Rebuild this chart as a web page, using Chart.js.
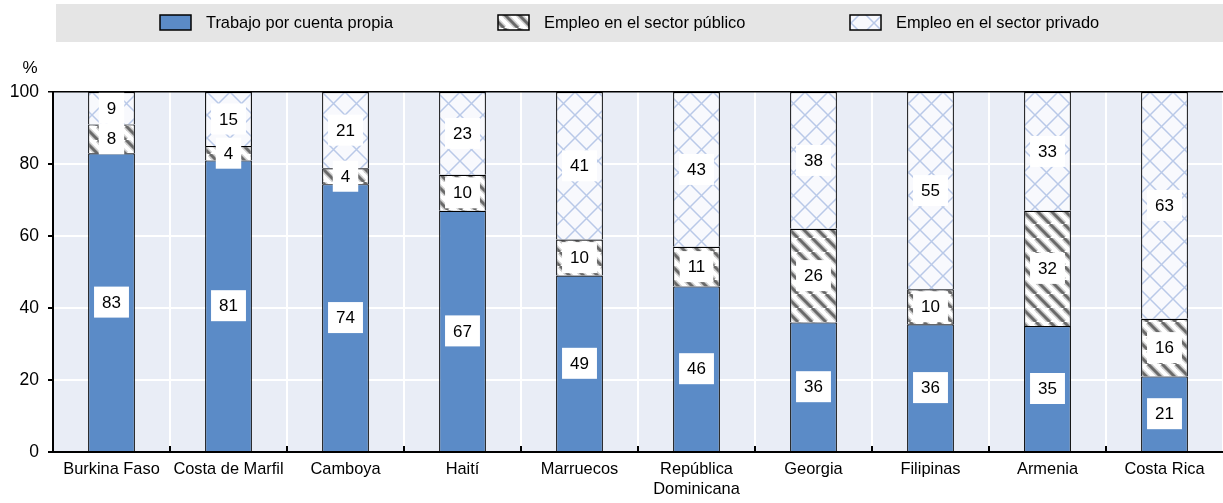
<!DOCTYPE html>
<html>
<head>
<meta charset="utf-8">
<script src="https://cdn.jsdelivr.net/npm/chart.js@4/dist/chart.umd.min.js"></script>
<style>
  html, body { margin: 0; padding: 0; background: #fff; }
</style>
</head>
<body>
<canvas id="chart" width="1223" height="503"></canvas>
<script>
// data
const countries = ['Burkina Faso', 'Costa de Marfil', 'Camboya', 'Haití', 'Marruecos',
  ['República', 'Dominicana'], 'Georgia', 'Filipinas', 'Armenia', 'Costa Rica'];
const selfEmployed = [83, 81, 74.4, 67, 49, 46, 36, 35.5, 35, 21];
const publicSector = [8, 4, 4.4, 10, 10, 11, 26, 9.7, 32, 16];
const privateSector = [9, 15, 21.2, 23, 41, 43, 38, 54.8, 33, 63];
const seriesNames = ['Trabajo por cuenta propia', 'Empleo en el sector público', 'Empleo en el sector privado'];
const yTicks = [0, 20, 40, 60, 80, 100];

const FONT = '"Liberation Sans", Arial, Helvetica, sans-serif';

// diagonal stripes for the public sector
function stripePattern() {
  const s = 14;
  const c = document.createElement('canvas');
  c.width = s; c.height = s;
  const g = c.getContext('2d');
  g.fillStyle = '#fff';
  g.fillRect(0, 0, s, s);
  [[6, '#cfcfcf'], [3, '#6a6a6a']].forEach(([w, col]) => {
    g.strokeStyle = col;
    g.lineWidth = w;
    [-s, 0, s].forEach(o => {
      g.beginPath();
      g.moveTo(o, 0);
      g.lineTo(o + s, s);
      g.stroke();
    });
  });
  return g.createPattern(c, 'repeat');
}

// light blue cross hatch for the private sector
function crossPattern() {
  const s = 23;
  const c = document.createElement('canvas');
  c.width = s; c.height = s;
  const g = c.getContext('2d');
  g.fillStyle = '#f8f9fd';
  g.fillRect(0, 0, s, s);
  g.strokeStyle = '#b9c9e8';
  g.lineWidth = 1.5;
  g.beginPath();
  g.moveTo(0, 0); g.lineTo(s, s);
  g.moveTo(s, 0); g.lineTo(0, s);
  g.stroke();
  return g.createPattern(c, 'repeat');
}

const fills = ['#5b8bc7', stripePattern(), crossPattern()];

const chartBg = {
  id: 'chartBg',
  beforeDraw(chart) {
    const { ctx, chartArea: a } = chart;
    ctx.save();
    ctx.fillStyle = '#e9edf6';
    ctx.fillRect(a.left, a.top, a.right - a.left, a.bottom - a.top);

    // legend band
    ctx.fillStyle = '#e5e5e5';
    ctx.fillRect(56, 4, chart.width - 56, 38);
    const boxX = [160, 498, 850];
    ctx.font = '16.4px ' + FONT;
    ctx.textBaseline = 'middle';
    chart.data.datasets.forEach((ds, i) => {
      ctx.fillStyle = ds.backgroundColor;
      ctx.fillRect(boxX[i], 15, 31, 15);
      ctx.strokeStyle = '#000';
      ctx.lineWidth = 1.5;
      ctx.strokeRect(boxX[i], 15, 31, 15);
      ctx.fillStyle = '#000';
      ctx.fillText(ds.label, boxX[i] + 46, 23);
    });

    // unit label
    ctx.textAlign = 'center';
    ctx.font = '17px ' + FONT;
    ctx.fillText('%', 30, 68);
    ctx.restore();
  }
};

const valueBoxes = {
  id: 'valueBoxes',
  afterDatasetsDraw(chart) {
    const { ctx } = chart;
    ctx.save();
    ctx.font = '17px ' + FONT;
    ctx.textAlign = 'center';
    ctx.textBaseline = 'middle';
    chart.data.datasets.forEach((ds, di) => {
      chart.getDatasetMeta(di).data.forEach((bar, i) => {
        const { x, y, base } = bar.getProps(['x', 'y', 'base'], true);
        const txt = String(Math.round(ds.data[i]));
        const w = ctx.measureText(txt).width + 16;
        const h = 31;
        const cy = (y + base) / 2;
        ctx.fillStyle = '#fff';
        ctx.fillRect(x - w / 2, cy - h / 2, w, h);
        ctx.fillStyle = '#000';
        ctx.fillText(txt, x, cy + 1);
      });
    });

    // short tick marks at category boundaries, pointing up from the axis
    const xs = chart.scales.x;
    const bottom = chart.chartArea.bottom;
    ctx.strokeStyle = '#000';
    ctx.lineWidth = 2;
    for (let i = 1; i < countries.length; i++) {
      const bx = (xs.getPixelForValue(i - 1) + xs.getPixelForValue(i)) / 2;
      ctx.beginPath();
      ctx.moveTo(bx, bottom - 6);
      ctx.lineTo(bx, bottom);
      ctx.stroke();
    }
    ctx.restore();
  }
};

const datasets = [selfEmployed, publicSector, privateSector].map((vals, i) => ({
  label: seriesNames[i],
  data: vals,
  backgroundColor: fills[i],
  borderColor: '#000',
  borderWidth: 1.2,
  barPercentage: 0.4,
  categoryPercentage: 1
}));

new Chart(document.getElementById('chart'), {
  type: 'bar',
  data: { labels: countries, datasets: datasets },
  plugins: [chartBg, valueBoxes],
  options: {
    responsive: false,
    animation: false,
    layout: { padding: { top: 92, right: 0, left: 0, bottom: 0 } },
    plugins: { legend: { display: false }, tooltip: { enabled: false } },
    scales: {
      x: {
        stacked: true,
        grid: { color: '#fff', lineWidth: 2, drawTicks: false, offset: true },
        border: { color: '#000', width: 2 },
        ticks: { color: '#000', font: { family: FONT, size: 16.4 }, padding: 8, maxRotation: 0, autoSkip: false },
        afterFit: s => { s.height = 51; }
      },
      y: {
        stacked: true,
        min: 0,
        max: 100,
        afterBuildTicks: s => { s.ticks = yTicks.map(v => ({ value: v })); },
        grid: {
          color: c => (c.tick && c.tick.value === 100 ? '#000' : '#fff'),
          lineWidth: c => (c.tick && c.tick.value === 100 ? 1.5 : 2),
          tickColor: '#000',
          tickLength: 5
        },
        border: { color: '#000', width: 2 },
        ticks: { color: '#000', font: { family: FONT, size: 17.5 }, padding: 9 },
        afterFit: s => { s.width = 53; }
      }
    }
  }
});
</script>
</body>
</html>
